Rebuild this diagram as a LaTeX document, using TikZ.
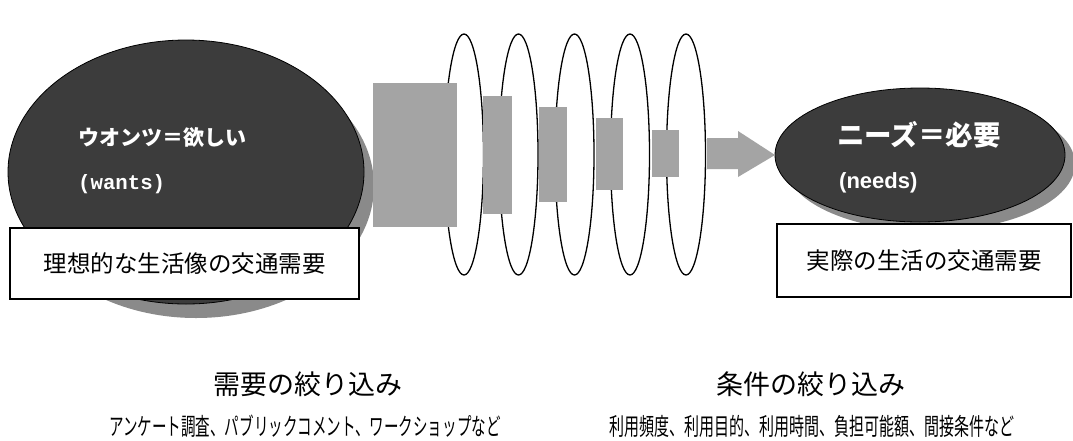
\documentclass[tikz,border=0pt]{standalone}
\usepackage{fontspec}
\newfontfamily\jp{Noto Sans CJK JP}
\newfontfamily\monof{Liberation Mono}
\newfontfamily\arialf{Liberation Sans}
\definecolor{darkfill}{HTML}{3C3C3C}
\definecolor{shadowgray}{HTML}{8A8A8A}
\definecolor{bargray}{HTML}{A4A4A4}
\tikzset{
  box/.style={draw=black, fill=white, line width=1.2pt, inner sep=0pt},
  ring/.style={draw=black, line width=1.3pt, fill=white},
  bar/.style={fill=bargray},
  whitetxt/.style={text=white, inner sep=0pt, anchor=west},
  boxtxt/.style={inner sep=0pt, font=\jp\fontsize{23.5pt}{28pt}\selectfont},
  headtxt/.style={inner sep=0pt, font=\jp\fontsize{27pt}{32pt}\selectfont},
  subtxt/.style={inner sep=0pt, font=\jp\fontsize{24pt}{28pt}\selectfont}
}
\begin{document}
\begin{tikzpicture}[x=1pt,y=-1pt]
\useasboundingbox (0,0) rectangle (1073,440);
\fill[white] (0,0) rectangle (1073,440);

% left dark ellipse with shadow
\fill[shadowgray] (196,186) ellipse [x radius=178pt, y radius=132pt];
\filldraw[fill=darkfill, draw=black, line width=0.8pt] (186,172) ellipse [x radius=178pt, y radius=132pt];

% right dark ellipse with shadow
\fill[shadowgray] (930,164) ellipse [x radius=145pt, y radius=67pt];
\filldraw[fill=darkfill, draw=black, line width=0.8pt] (920,155) ellipse [x radius=145pt, y radius=67pt];

% filter rings
\foreach \cx in {464,518.5,574.5,630,686}
  \draw[ring] (\cx,154.5) ellipse [x radius=19.5pt, y radius=120.5pt];

% narrowing bars
\fill[bar] (373,83) rectangle (457,227);
\fill[bar] (483,96) rectangle (512,214);
\fill[bar] (539,107) rectangle (567,202);
\fill[bar] (596,118) rectangle (623,190);
\fill[bar] (652,130) rectangle (679,177);

% arrow
\fill[bar] (707,138) -- (738,138) -- (738,131) -- (775,155) -- (738,177) -- (738,169) -- (707,169) -- cycle;

% texts in ellipses
\node[whitetxt, font=\jp\bfseries\fontsize{21pt}{25pt}\selectfont] (wantsjp) at (78,138) {ウオンツ＝欲しい};
\node[whitetxt, font=\monof\bfseries\fontsize{20.7pt}{25pt}\selectfont] (wantsen) at (78,184) {(wants)};
\node[whitetxt, font=\jp\bfseries\fontsize{27.5pt}{32pt}\selectfont] (needsjp) at (837,135) {ニーズ＝必要};
\node[whitetxt, font=\arialf\bfseries\fontsize{22pt}{26pt}\selectfont] (needsen) at (839,183) {(needs)};

% boxes
\node[box, minimum width=349pt, minimum height=71pt] (lbox) at (184.5,263.5) {};
\node[boxtxt] (ltext) at (lbox.center) {理想的な生活像の交通需要};
\node[box, minimum width=294pt, minimum height=73pt] (rbox) at (924,260.5) {};
\node[boxtxt] (rtext) at (rbox.center) {実際の生活の交通需要};

% bottom captions
\node[headtxt] (lhead) at (308,384) {需要の絞り込み};
\node[subtxt] (lsub) at (305,426) {\scalebox{0.605}[1]{アンケート調査、パブリックコメント、ワークショップなど}};
\node[headtxt] (rhead) at (811,384) {条件の絞り込み};
\node[subtxt] (rsub) at (812,426) {\scalebox{0.625}[1]{利用頻度、利用目的、利用時間、負担可能額、間接条件など}};
\end{tikzpicture}
\end{document}
